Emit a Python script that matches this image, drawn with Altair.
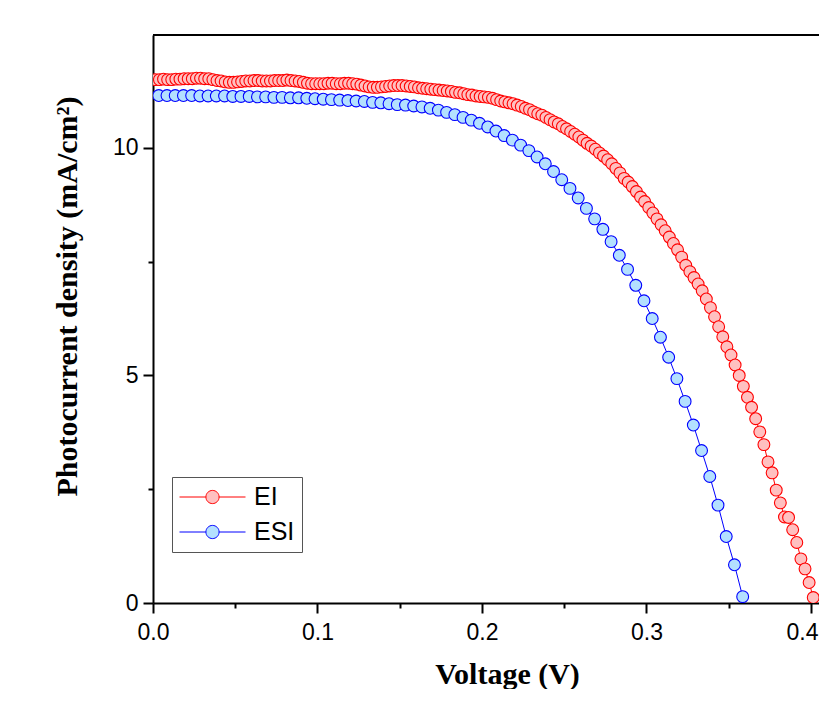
import altair as alt
import pandas as pd

# ---- data ----
SERIES = ["EI", "ESI"]

EI_V = [
    0.0014, 0.0039, 0.0064, 0.0089, 0.0114, 0.0139, 0.0164, 0.0189, 0.0214, 0.0239,
    0.0264, 0.0289, 0.0314, 0.0339, 0.0364, 0.0389, 0.0414, 0.0439, 0.0464, 0.0489,
    0.0514, 0.0539, 0.0564, 0.0589, 0.0614, 0.0639, 0.0664, 0.0689, 0.0714, 0.0739,
    0.0764, 0.0789, 0.0814, 0.0839, 0.0864, 0.0889, 0.0914, 0.0939, 0.0964, 0.0989,
    0.1014, 0.1039, 0.1064, 0.1089, 0.1114, 0.1139, 0.1164, 0.1189, 0.1214, 0.1239,
    0.1264, 0.1289, 0.1314, 0.1339, 0.1364, 0.1389, 0.1414, 0.1439, 0.1464, 0.1489,
    0.1514, 0.1539, 0.1564, 0.1589, 0.1614, 0.1639, 0.1664, 0.1689, 0.1714, 0.1739,
    0.1764, 0.1789, 0.1814, 0.1839, 0.1864, 0.1889, 0.1914, 0.1939, 0.1964, 0.1989,
    0.2014, 0.2039, 0.2064, 0.2089, 0.2114, 0.2139, 0.2164, 0.2189, 0.2214, 0.2239,
    0.2264, 0.2289, 0.2314, 0.2339, 0.2364, 0.2389, 0.2414, 0.2439, 0.2464, 0.2489,
    0.2514, 0.2539, 0.2564, 0.2589, 0.2614, 0.2639, 0.2664, 0.2689, 0.2714, 0.2739,
    0.2764, 0.2789, 0.2814, 0.2839, 0.2864, 0.2889, 0.2914, 0.2939, 0.2964, 0.2989,
    0.3014, 0.3039, 0.3064, 0.3089, 0.3114, 0.3139, 0.3164, 0.3189, 0.3214, 0.3239,
    0.3264, 0.3289, 0.3314, 0.3339, 0.3364, 0.3389, 0.3414, 0.3439, 0.3464, 0.3489,
    0.3514, 0.3539, 0.3564, 0.3589, 0.3614, 0.3639, 0.3664, 0.3689, 0.3714, 0.3739,
    0.3764, 0.3789, 0.3814, 0.3839, 0.3864, 0.3889, 0.3914, 0.3939, 0.3964, 0.3989,
    0.4014,
]
EI_J = [
    11.50, 11.50, 11.51, 11.50, 11.50, 11.51, 11.51, 11.52, 11.52, 11.52,
    11.53, 11.53, 11.52, 11.52, 11.50, 11.48, 11.47, 11.45, 11.44, 11.44,
    11.45, 11.46, 11.47, 11.47, 11.48, 11.48, 11.47, 11.47, 11.47, 11.48,
    11.48, 11.48, 11.49, 11.48, 11.47, 11.46, 11.44, 11.42, 11.41, 11.41,
    11.41, 11.41, 11.42, 11.42, 11.41, 11.41, 11.42, 11.42, 11.41, 11.40,
    11.38, 11.36, 11.34, 11.33, 11.33, 11.34, 11.35, 11.36, 11.37, 11.37,
    11.37, 11.36, 11.35, 11.34, 11.32, 11.31, 11.30, 11.29, 11.28, 11.27,
    11.26, 11.25, 11.24, 11.22, 11.21, 11.19, 11.17, 11.16, 11.14, 11.13,
    11.12, 11.11, 11.09, 11.06, 11.03, 11.01, 10.99, 10.97, 10.94, 10.91,
    10.87, 10.84, 10.79, 10.75, 10.72, 10.67, 10.62, 10.57, 10.53, 10.47,
    10.42, 10.36, 10.30, 10.24, 10.17, 10.10, 10.04, 9.97, 9.89, 9.82,
    9.74, 9.65, 9.55, 9.45, 9.33, 9.25, 9.15, 9.04, 8.92, 8.82,
    8.69, 8.57, 8.44, 8.31, 8.18, 8.04, 7.90, 7.76, 7.60, 7.42,
    7.28, 7.15, 7.01, 6.86, 6.68, 6.49, 6.29, 6.07, 5.85, 5.63,
    5.45, 5.23, 5.00, 4.76, 4.52, 4.30, 4.05, 3.76, 3.48, 3.10,
    2.86, 2.48, 2.20, 1.89, 1.88, 1.61, 1.33, 0.97, 0.75, 0.45,
    0.12,
]

ESI_V = [
    0.0035, 0.0085, 0.0135, 0.0185, 0.0235, 0.0285, 0.0335, 0.0385, 0.0435, 0.0485,
    0.0535, 0.0585, 0.0635, 0.0685, 0.0735, 0.0785, 0.0835, 0.0885, 0.0935, 0.0985,
    0.1035, 0.1085, 0.1135, 0.1185, 0.1235, 0.1285, 0.1335, 0.1385, 0.1435, 0.1485,
    0.1535, 0.1585, 0.1635, 0.1685, 0.1735, 0.1785, 0.1835, 0.1885, 0.1935, 0.1985,
    0.2035, 0.2085, 0.2135, 0.2185, 0.2235, 0.2285, 0.2335, 0.2385, 0.2435, 0.2485,
    0.2535, 0.2585, 0.2635, 0.2685, 0.2735, 0.2785, 0.2835, 0.2885, 0.2935, 0.2985,
    0.3035, 0.3085, 0.3135, 0.3185, 0.3235, 0.3285, 0.3335, 0.3385, 0.3435, 0.3485,
    0.3535, 0.3585,
]
ESI_J = [
    11.15, 11.15, 11.15, 11.15, 11.15, 11.14, 11.14, 11.14, 11.14, 11.13,
    11.13, 11.13, 11.12, 11.12, 11.11, 11.11, 11.10, 11.10, 11.09, 11.08,
    11.07, 11.06, 11.05, 11.04, 11.03, 11.02, 11.00, 10.99, 10.97, 10.95,
    10.94, 10.92, 10.90, 10.87, 10.83, 10.78, 10.73, 10.67, 10.61, 10.54,
    10.46, 10.37, 10.27, 10.17, 10.06, 9.94, 9.80, 9.65, 9.48, 9.30,
    9.11, 8.90, 8.67, 8.44, 8.21, 7.94, 7.64, 7.33, 6.98, 6.64,
    6.25, 5.84, 5.40, 4.93, 4.43, 3.91, 3.35, 2.78, 2.15, 1.46,
    0.84, 0.14,
]

X_TICKS = [0.0, 0.05, 0.1, 0.15, 0.2, 0.25, 0.3, 0.35, 0.4]
Y_TICKS = [0, 2.5, 5, 7.5, 10]
X_MAX = 0.4049
Y_MAX = 12.48

# ---- styles ----
STROKES = ["#FF0000", "#0000FF"]
FILLS = ["#FFC0C0", "#B3E0FF"]
SANS = "Arial, Liberation Sans"
SERIF = "Times New Roman, Liberation Serif"

df = pd.concat([
    pd.DataFrame({"V": EI_V, "J": EI_J, "s": SERIES[0], "o": list(range(len(EI_V)))}),
    pd.DataFrame({"V": ESI_V, "J": ESI_J, "s": SERIES[1], "o": list(range(len(ESI_V)))}),
], ignore_index=True)

LEGEND_PATH = ("M-1,0L-0.2,0M0.2,0L1,0"
               "M-0.2,0A0.2,0.2 0 1 1 0.2,0A0.2,0.2 0 1 1 -0.2,0Z")

legend = alt.Legend(
    orient="none", legendX=19, legendY=442,
    symbolType=LEGEND_PATH, symbolSize=66 * 66, symbolStrokeWidth=1,
    clipHeight=26,
    labelFont=SANS, labelFontSize=25, labelColor="black", labelOffset=8,
    strokeColor="#555555", padding=7, rowPadding=9, fillColor="white",
)

MAJOR_X = "abs(datum.value*10 - round(datum.value*10)) < 0.001"
x_enc = alt.X(
    "V:Q", title="Voltage (V)",
    scale=alt.Scale(domain=[0, X_MAX], nice=False, zero=False),
    axis=alt.Axis(
        values=X_TICKS, labelFlush=False,
        labelExpr=MAJOR_X + " ? format(datum.value, '.1f') : ''",
        labelOffset={"condition": {"test": "datum.value > 0.39", "value": -9}, "value": 0},
        tickSize={"condition": {"test": MAJOR_X, "value": 10}, "value": 5},
        labelPadding=8, titleX=354, titleY=80, titleBaseline="alphabetic",
    ),
)
y_enc = alt.Y(
    "J:Q", title="Photocurrent density (mA/cm²)",
    scale=alt.Scale(domain=[0, Y_MAX], nice=False),
    axis=alt.Axis(
        values=Y_TICKS, labelFlush=False,
        labelExpr="datum.value % 5 === 0 ? datum.label : ''",
        tickSize={"condition": {"test": "datum.value % 5 === 0", "value": 10}, "value": 5},
        labelPadding=5, titleX=-86, titleY=261, titleBaseline="middle",
    ),
)
stroke_enc = alt.Stroke("s:N", title=None, scale=alt.Scale(domain=SERIES, range=STROKES), legend=legend)
fill_enc = alt.Fill("s:N", title=None, scale=alt.Scale(domain=SERIES, range=FILLS), legend=legend)

lines = alt.Chart(df).mark_line(strokeWidth=1, clip=True).encode(
    x=x_enc, y=y_enc, stroke=stroke_enc, detail="s:N", order="o:Q"
)
points = alt.Chart(df).mark_point(
    shape="circle", filled=True, size=140, strokeWidth=1.1, opacity=1, clip=True
).encode(x=x_enc, y=y_enc, stroke=stroke_enc, fill=fill_enc)

top_rule = alt.Chart(pd.DataFrame({"t": [0]})).mark_rule(color="black", strokeWidth=2).encode(
    y=alt.datum(Y_MAX)
)

chart = alt.layer(lines, points, top_rule).properties(
    width=666, height=568,
    autosize=alt.AutoSizeParams(type="none"),
    padding={"left": 145, "top": 27, "right": 0, "bottom": 86},
    background="white",
).configure_view(stroke=None).configure_axis(
    grid=False, domainColor="black", domainWidth=2, tickColor="black", tickWidth=2,
    labelFont=SANS, labelFontSize=23, labelColor="black",
    titleFont=SERIF, titleFontSize=30, titleFontWeight="bold", titleColor="black",
    zindex=1,
)

chart.save("out.html", embed_options={"renderer": "svg", "actions": False})
